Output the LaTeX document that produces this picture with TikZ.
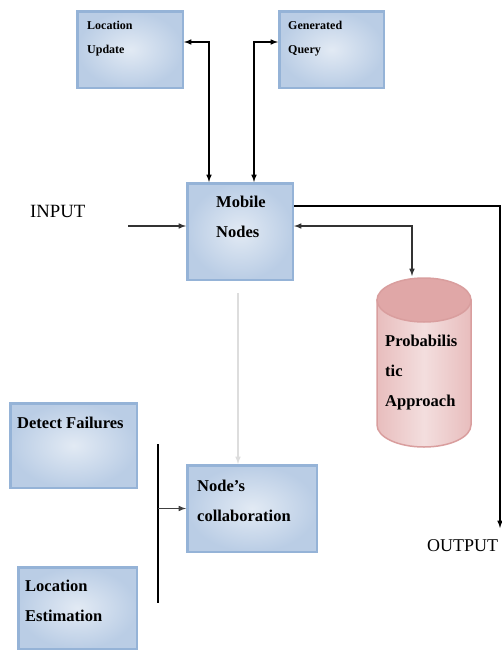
\documentclass[tikz,border=0pt]{standalone}
\usepackage{fontspec}
\setmainfont{Liberation Serif}
\definecolor{boxline}{HTML}{95B3D7}
\definecolor{boxin}{HTML}{E2EAF4}
\definecolor{boxout}{HTML}{BACDE5}
\definecolor{cylline}{HTML}{D99E9E}
\definecolor{cylbody}{HTML}{F3DEDE}
\definecolor{cylside}{HTML}{E8BDBD}
\definecolor{cyltop}{HTML}{E0A7A7}
\definecolor{paleline}{HTML}{DDDDDD}
\begin{document}
\begin{tikzpicture}[x=1pt,y=-1pt,
  bluebox/.style={draw=boxline,line width=2.5pt,inner color=boxin,outer color=boxout,inner sep=0pt},
  boxtext/.style={anchor=north west,align=left,inner sep=0pt,font=\bfseries\fontsize{16.5}{30}\selectfont},
  smalltext/.style={boxtext,font=\bfseries\fontsize{12}{24}\selectfont}]
\useasboundingbox (0,0) rectangle (502,651);
%% blocks
\node[bluebox,minimum width=105.5pt,minimum height=76.5pt] (locupd) at (130,49.5) {};
\node[bluebox,minimum width=104.5pt,minimum height=76.5pt] (genq) at (331.5,49.5) {};
\node[bluebox,minimum width=105.5pt,minimum height=96.5pt] (mobile) at (240,231.5) {};
\node[bluebox,minimum width=126.5pt,minimum height=84.5pt] (detect) at (73.5,445.5) {};
\node[bluebox,minimum width=129.5pt,minimum height=86.5pt] (collab) at (252,508.5) {};
\node[bluebox,minimum width=118.5pt,minimum height=81.5pt] (locest) at (77.5,608) {};
%% database drum
\draw[cylline,line width=1.5pt,left color=cylside,right color=cylside,middle color=cylbody]
  (377,300) -- (377,425) arc[start angle=180,end angle=0,x radius=47,y radius=22] -- (471,300) -- cycle;
\draw[cylline,line width=1.5pt,fill=cyltop] (424,300) ellipse[x radius=47,y radius=22];
%% texts
\node[smalltext] (locupdtxt) at (87,21) {Location\\Update};
\node[smalltext] (genqtxt) at (288,21) {Generated\\Query};
\node[boxtext] (mobiletxt) at (216,196) {Mobile\\Nodes};
\node[boxtext] (detecttxt) at (17,417) {Detect Failures};
\node[boxtext] (collabtxt) at (197,480) {Node's\\collaboration};
\node[boxtext] (locesttxt) at (25,580) {Location\\Estimation};
\node[boxtext] (probtxt) at (385,335) {Probabilis\\tic\\Approach};
\node[anchor=base west,inner sep=0pt,font=\fontsize{18.7}{20}\selectfont] (input) at (30,217) {INPUT};
\node[anchor=base west,inner sep=0pt,font=\fontsize{18}{20}\selectfont] (output) at (427,551) {OUTPUT};
%% free ends
\coordinate (inputend) at (128,226);
\coordinate (outcorner) at (500,206);
\coordinate (outend) at (500,528);
\coordinate (cyltop) at (412,276);
\coordinate (brtop) at (158,444);
\coordinate (brbot) at (158,603);
\coordinate (downstart) at (238,293);
%% connectors
\draw[<->,>=latex,line width=1.5pt] ([yshift=7.5pt]locupd.east) -| ([xshift=-31pt]mobile.north);
\draw[<->,>=latex,line width=1.5pt] ([yshift=7.5pt]genq.west) -| ([xshift=14pt]mobile.north);
\draw[->,>=latex,line width=1.5pt,black!80] (inputend) -- (inputend -| mobile.west);
\draw[->,>=latex,line width=1.5pt] (outcorner -| mobile.east) -| (outend);
\draw[<->,>=latex,line width=1.5pt,black!80] (inputend -| mobile.east) -| (cyltop);
\draw[->,>=latex,line width=1.5pt,paleline] (downstart) -- (downstart |- collab.north);
\draw[line width=1.5pt] (brtop) -- (brbot);
\draw[->,>=latex,line width=1.5pt,black!75] (brtop |- collab.west) -- (collab.west);
\end{tikzpicture}
\end{document}
